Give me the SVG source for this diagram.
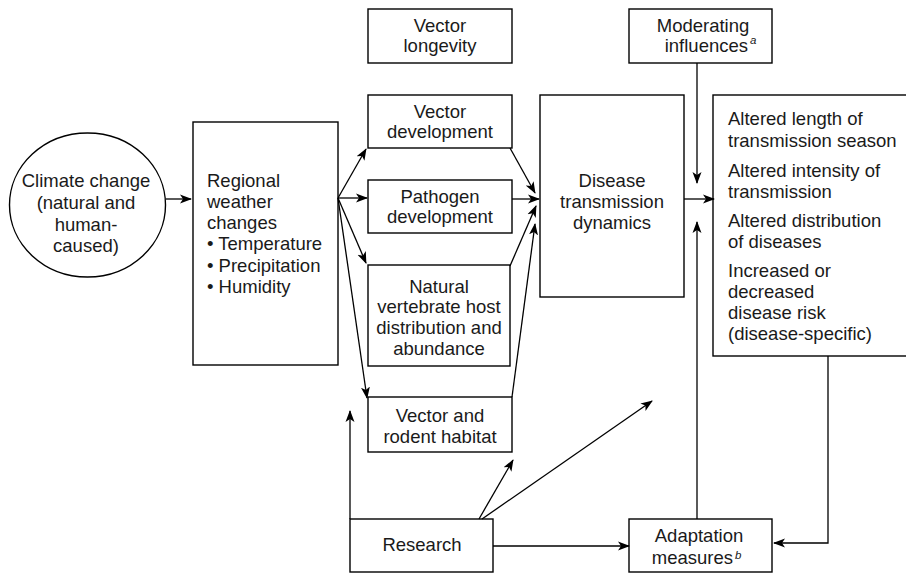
<svg xmlns="http://www.w3.org/2000/svg" width="906" height="573" viewBox="0 0 906 573">
<defs>
<marker id="ah" viewBox="0 0 12 10" refX="11" refY="5" markerWidth="12" markerHeight="10" markerUnits="userSpaceOnUse" orient="auto">
<path d="M0,0.5 L12,5 L0,9.5 L3,5 z" fill="#000"/>
</marker>
</defs>
<style>
rect, ellipse { fill: #fff; stroke: #000; stroke-width: 1.4; }
text { font-family: "Liberation Sans", Arial, sans-serif; font-size: 18.5px; fill: #1a1a1a; }
.c { text-anchor: middle; }
.e { text-anchor: end; }
.sup { font-size: 11.5px; font-style: italic; }
#connectors line, #connectors polyline { stroke: #000; stroke-width: 1.3; fill: none; }
.a { marker-end: url(#ah); }
</style>
<rect width="906" height="573" style="fill:#fff;stroke:none"/>

<g id="climate">
<ellipse cx="87.5" cy="205" rx="78" ry="72"/>
<text class="c" x="86" y="187">Climate change</text>
<text class="c" x="86" y="209">(natural and</text>
<text class="c" x="86" y="231">human-</text>
<text class="c" x="86" y="252">caused)</text>
</g>

<g id="regional">
<rect x="193" y="122" width="145" height="243"/>
<text x="207" y="187">Regional</text>
<text x="207" y="208">weather</text>
<text x="207" y="229">changes</text>
<text x="207" y="250">• Temperature</text>
<text x="207" y="272">• Precipitation</text>
<text x="207" y="293">• Humidity</text>
</g>

<g id="longevity">
<rect x="368" y="9" width="144" height="54"/>
<text class="c" x="440" y="32">Vector</text>
<text class="c" x="440" y="52">longevity</text>
</g>

<g id="moderating">
<rect x="629" y="9" width="143" height="54"/>
<text class="c" x="703" y="32">Moderating</text>
<text class="e" x="748" y="52">influences</text>
<text class="sup" x="750" y="44">a</text>
</g>

<g id="vectordev">
<rect x="368" y="95" width="144" height="53"/>
<text class="c" x="440" y="118">Vector</text>
<text class="c" x="440" y="138">development</text>
</g>

<g id="pathogen">
<rect x="368" y="180" width="144" height="53"/>
<text class="c" x="440" y="203">Pathogen</text>
<text class="c" x="440" y="223">development</text>
</g>

<g id="natural">
<rect x="368" y="265" width="142" height="101"/>
<text class="c" x="439" y="293">Natural</text>
<text class="c" x="439" y="313">vertebrate host</text>
<text class="c" x="439" y="334">distribution and</text>
<text class="c" x="439" y="355">abundance</text>
</g>

<g id="habitat">
<rect x="368" y="397" width="144" height="55"/>
<text class="c" x="440" y="422">Vector and</text>
<text class="c" x="440" y="443">rodent habitat</text>
</g>

<g id="disease">
<rect x="540" y="95" width="144" height="202"/>
<text class="c" x="612" y="187">Disease</text>
<text class="c" x="612" y="208">transmission</text>
<text class="c" x="612" y="229">dynamics</text>
</g>

<g id="outcomes">
<rect x="713" y="95" width="200" height="261"/>
<text x="728" y="125">Altered length of</text>
<text x="728" y="147">transmission season</text>
<text x="728" y="177">Altered intensity of</text>
<text x="728" y="198">transmission</text>
<text x="728" y="227">Altered distribution</text>
<text x="728" y="248">of diseases</text>
<text x="728" y="277">Increased or</text>
<text x="728" y="298">decreased</text>
<text x="728" y="319">disease risk</text>
<text x="728" y="340">(disease-specific)</text>
</g>

<g id="research">
<rect x="350" y="519" width="143" height="53"/>
<text class="c" x="422" y="551">Research</text>
</g>

<g id="adaptation">
<rect x="629" y="519" width="143" height="53"/>
<text class="c" x="699" y="542">Adaptation</text>
<text class="e" x="733" y="564">measures</text>
<text class="sup" x="735" y="559">b</text>
</g>

<g id="connectors">
<line class="a" x1="166" y1="199" x2="191" y2="199"/>
<line class="a" x1="338" y1="198" x2="366" y2="149"/>
<line class="a" x1="338" y1="198" x2="367" y2="198"/>
<line class="a" x1="338" y1="198" x2="366" y2="263"/>
<line class="a" x1="338" y1="198" x2="367" y2="398"/>
<line class="a" x1="510" y1="148" x2="535" y2="193"/>
<line class="a" x1="512" y1="199" x2="539" y2="199"/>
<line class="a" x1="510" y1="266" x2="536" y2="206"/>
<line class="a" x1="512" y1="397" x2="535" y2="224"/>
<line class="a" x1="684" y1="199" x2="714" y2="199"/>
<line class="a" x1="697" y1="63" x2="697" y2="183"/>
<line class="a" x1="697" y1="519" x2="697" y2="222"/>
<polyline class="a" points="828,356 828,543 774,543"/>
<line class="a" x1="493" y1="546" x2="629" y2="546"/>
<line class="a" x1="350" y1="519" x2="350" y2="411"/>
<line class="a" x1="479" y1="519" x2="513" y2="460"/>
<line class="a" x1="482" y1="519" x2="652" y2="401"/>
</g>
</svg>
